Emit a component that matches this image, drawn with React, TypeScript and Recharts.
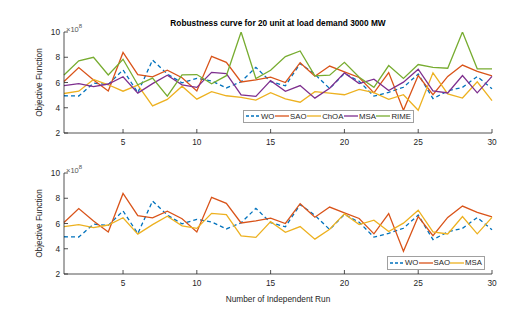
import { LineChart, Line, XAxis, YAxis, Legend } from "recharts";

const runs = [1, 2, 3, 4, 5, 6, 7, 8, 9, 10, 11, 12, 13, 14, 15, 16, 17, 18, 19, 20, 21, 22, 23, 24, 25, 26, 27, 28, 29, 30];
const woValues = [4.95, 4.93, 5.95, 5.85, 7.0, 5.2, 7.78, 6.67, 5.97, 6.33, 6.12, 5.57, 6.06, 7.2, 6.07, 5.74, 7.5, 6.65, 5.52, 6.72, 6.1, 4.92, 5.22, 5.62, 6.67, 4.72, 5.33, 5.62, 6.47, 5.5];
const saoValues = [6.08, 7.18, 6.2, 5.33, 8.38, 6.62, 6.44, 6.97, 6.38, 5.33, 8.07, 7.6, 6.04, 6.2, 6.42, 6.0, 7.57, 6.5, 7.3, 6.84, 6.4, 5.18, 6.79, 3.8, 6.55, 5.04, 6.48, 7.38, 6.88, 6.52];
const choaValues = [5.13, 5.31, 6.24, 5.82, 5.31, 5.79, 4.15, 4.66, 5.71, 4.68, 5.28, 4.95, 4.82, 4.6, 5.2, 4.7, 4.44, 5.27, 5.16, 5.03, 5.45, 5.2, 4.66, 5.03, 3.8, 6.77, 5.09, 4.77, 6.05, 4.56];
const msaValues = [5.75, 5.91, 5.68, 5.88, 6.46, 5.16, 5.91, 6.57, 5.82, 5.61, 6.8, 6.7, 5.02, 4.9, 6.15, 5.3, 5.76, 4.76, 5.54, 6.76, 5.92, 6.26, 5.37, 6.03, 7.05, 5.33, 5.17, 6.55, 5.18, 6.48];
const rimeValues = [6.6, 7.72, 8.0, 6.6, 7.84, 5.82, 6.35, 4.92, 6.6, 6.63, 5.9, 6.54, 10.0, 6.32, 6.97, 8.05, 8.5, 6.52, 6.58, 7.6, 6.41, 5.62, 7.34, 6.32, 7.42, 7.2, 7.13, 10.0, 7.08, 7.08];
const xTicks = [5, 10, 15, 20, 25, 30];
const yTicks = [2, 4, 6, 8, 10];

const data = runs.map((run, i) => ({
  run,
  WO: woValues[i],
  SAO: saoValues[i],
  ChOA: choaValues[i],
  MSA: msaValues[i],
  RIME: rimeValues[i],
}));

const BLUE = "#0072BD";
const ORANGE = "#D95319";
const YELLOW = "#EDB120";
const PURPLE = "#7E2F8E";
const GREEN = "#77AC30";
const AXIS = "#262626";
const FONT = 8.3;
const LEGEND_FONT = 7.8;

type Series = { key: string; color: string; dashed?: boolean };

const topSeries: Series[] = [
  { key: "WO", color: BLUE, dashed: true },
  { key: "SAO", color: ORANGE },
  { key: "ChOA", color: YELLOW },
  { key: "MSA", color: PURPLE },
  { key: "RIME", color: GREEN },
];
const bottomSeries: Series[] = [
  { key: "WO", color: BLUE, dashed: true },
  { key: "SAO", color: ORANGE },
  { key: "MSA", color: YELLOW },
];

const BottomTick = (props: any) => {
  const { x, y, payload } = props;
  return (
    <g>
      <line x1={x} x2={x} y1={y} y2={y - 4} stroke={AXIS} strokeWidth={0.8} />
      <text x={x} y={y + 12} textAnchor="middle" fontSize={FONT} fill={AXIS}>{payload.value}</text>
    </g>
  );
};
const TopTick = (props: any) => {
  const { x, y } = props;
  return <line x1={x} x2={x} y1={y} y2={y + 4} stroke={AXIS} strokeWidth={0.8} />;
};
const LeftTick = (props: any) => {
  const { x, y, payload } = props;
  return (
    <g>
      <line x1={x} x2={x + 4} y1={y} y2={y} stroke={AXIS} strokeWidth={0.8} />
      <text x={x - 4} y={y + 3} textAnchor="end" fontSize={FONT} fill={AXIS}>{payload.value}</text>
    </g>
  );
};
const RightTick = (props: any) => {
  const { x, y } = props;
  return <line x1={x} x2={x - 4} y1={y} y2={y} stroke={AXIS} strokeWidth={0.8} />;
};

function makeLegend(series: Series[]) {
  return () => (
    <div style={{ border: "1px solid #a0a0a0", background: "#fff", height: "100%", boxSizing: "border-box", display: "flex", alignItems: "center", justifyContent: "space-between", padding: "0 2px", fontSize: LEGEND_FONT, color: AXIS, lineHeight: 1 }}>
      {series.map(s => (
        <span key={s.key} style={{ display: "flex", alignItems: "center" }}>
          <svg width={14} height={6} style={{ marginRight: 1 }}>
            <line x1={0} x2={14} y1={3} y2={3} stroke={s.color} strokeWidth={1.3} strokeDasharray={s.dashed ? "3 2" : undefined} />
          </svg>
          <span>{s.key}</span>
        </span>
      ))}
    </div>
  );
}

function Panel({ series, height, top, legendBox, showXLabel }: { series: Series[]; height: number; top: number; legendBox: { left: number; top: number; width: number; height: number }; showXLabel?: boolean }) {
  const xAxisHeight = showXLabel ? 31 : 17;
  return (
    <LineChart width={521} height={height} data={data} margin={{ top, right: 29, left: 0, bottom: 0 }}>
      <XAxis dataKey="run" type="number" domain={[1, 30]} ticks={xTicks} height={xAxisHeight} tickLine={false} tickSize={0} tickMargin={0} tick={BottomTick} axisLine={{ stroke: AXIS, strokeWidth: 0.8 }}
        label={showXLabel ? { value: "Number of Independent Run", position: "insideBottom", offset: 3, fontSize: FONT, fill: AXIS } : undefined} />
      <XAxis xAxisId="top" orientation="top" dataKey="run" type="number" domain={[1, 30]} ticks={xTicks} height={0} tickLine={false} tickSize={0} tickMargin={0} tick={TopTick} axisLine={{ stroke: "#555", strokeWidth: 0.8 }} />
      <YAxis type="number" domain={[2, 10]} ticks={yTicks} width={64} tickLine={false} tickSize={0} tickMargin={0} tick={LeftTick} axisLine={{ stroke: AXIS, strokeWidth: 0.8 }} allowDataOverflow
        label={{ value: "Objective Function", angle: -90, position: "insideLeft", offset: 39, fontSize: FONT, fill: AXIS, style: { textAnchor: "middle" } }} />
      <YAxis yAxisId="right" orientation="right" type="number" domain={[2, 10]} ticks={yTicks} width={0} tickLine={false} tickSize={0} tickMargin={0} tick={RightTick} axisLine={{ stroke: "#555", strokeWidth: 0.8 }} />
      <Legend layout="horizontal" verticalAlign="middle" align="center" width={legendBox.width} height={legendBox.height}
        wrapperStyle={{ left: legendBox.left, top: legendBox.top, width: legendBox.width, height: legendBox.height }} content={makeLegend(series)} />
      {series.map(s => (
        <Line key={s.key} type="linear" dataKey={s.key} name={s.key} stroke={s.color} strokeWidth={1.3} strokeDasharray={s.dashed ? "4 3" : undefined} dot={false} activeDot={false} isAnimationActive={false} />
      ))}
    </LineChart>
  );
}

export default function App() {
  const exp = { position: "absolute" as const, left: 66, fontSize: 7.5, color: "#555", lineHeight: 1 };
  return (
    <div style={{ position: "absolute", left: 0, top: 0, width: 521, height: 319, background: "#fff", fontFamily: '"Liberation Sans", Arial, Helvetica, sans-serif', overflow: "hidden" }}>
      <div style={{ position: "absolute", left: 0, top: 0 }}>
        <Panel series={topSeries} height={150} top={32} legendBox={{ left: 243, top: 110, width: 171, height: 13 }} />
      </div>
      <div style={{ position: "absolute", left: 0, top: 140 }}>
        <Panel series={bottomSeries} height={165} top={33} legendBox={{ left: 387, top: 116, width: 98, height: 14 }} showXLabel />
      </div>
      <div style={{ position: "absolute", left: 64, width: 428, top: 19, textAlign: "center", fontSize: 8.3, fontWeight: 700, color: "#000", lineHeight: 1 }}>
        Robustness curve for 20 unit at load demand 3000 MW
      </div>
      <div style={{ ...exp, top: 23 }}>×10<sup style={{ fontSize: 6 }}>8</sup></div>
      <div style={{ ...exp, top: 164 }}>×10<sup style={{ fontSize: 6 }}>8</sup></div>
    </div>
  );
}
